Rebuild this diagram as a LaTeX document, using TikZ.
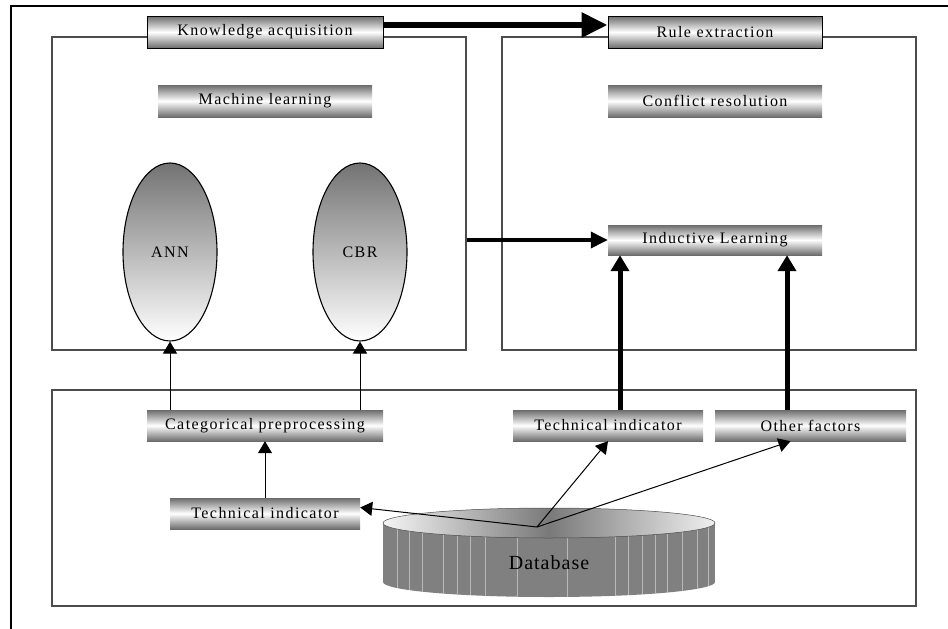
\documentclass[tikz,border=0pt]{standalone}
\usepackage{fontspec}
\newfontfamily\barfont[LetterSpace=9]{Liberation Serif}
\newfontfamily\dbfont[LetterSpace=5]{Liberation Serif}
\usepackage{tikz}
\usetikzlibrary{arrows.meta}
\usetikzlibrary{calc}
\usetikzlibrary{shapes.geometric}

\begin{document}
\begin{tikzpicture}[x=1pt,y=-1pt,
		bar/.style={inner sep=0pt,minimum height=31pt,top color=gray!85!black,bottom color=gray!85!black,middle color=white,font=\barfont\fontsize{16}{19}\selectfont},
		framed/.style={draw=black!70,line width=1.3pt,inner sep=0pt},
		egg/.style={ellipse,draw,line width=1.1pt,minimum width=94pt,minimum height=178pt,inner sep=0pt,top color=gray!90!black,bottom color=white,font=\barfont\fontsize{16}{19}\selectfont},
		smallarrow/.style={line width=1pt,-{Triangle[length=12pt,width=14pt]}},
		bigarrow/.style={line width=6pt,-{Triangle[length=26pt,width=24pt]}},
		midarrow/.style={line width=3.5pt,-{Triangle[length=17pt,width=16pt]}},
		uparrow/.style={line width=5pt,-{Triangle[length=16pt,width=18pt]}}]
		\useasboundingbox (0,0) rectangle (948,629);
		\draw[line width=1.6pt] (11,629) -- (11,6) -- (948,6);

		\node[framed,minimum width=414pt,minimum height=313pt] (lframe) at (259,193.5) {};
		\node[framed,minimum width=414pt,minimum height=313pt] (rframe) at (709,193.5) {};
		\node[framed,minimum width=864pt,minimum height=216pt] (dframe) at (484,498) {};

		\node[bar,draw,line width=1pt,minimum width=236pt,minimum height=32pt] (knowl) at (265,32) {Knowledge acquisition};
		\node[bar,draw,line width=1pt,minimum width=214pt,minimum height=32pt] (rule) at (715,32) {Rule extraction};
		\node[bar,minimum width=214pt,minimum height=32pt] (mlearn) at (265,101) {Machine learning};
		\node[bar,minimum width=214pt,minimum height=32pt] (conflict) at (715,101) {Conflict resolution};
		\node[bar,minimum width=214pt,minimum height=30pt] (induct) at (715,240) {Inductive Learning};
		\node[egg] (ann) at (170,252) {ANN};
		\node[egg] (cbr) at (360,252) {CBR};
		\node[bar,minimum width=236pt] (catpre) at (265,425.5) {Categorical preprocessing};
		\node[bar,minimum width=190pt] (techA) at (265,513.5) {Technical indicator};
		\node[bar,minimum width=190pt] (techB) at (608,425.5) {Technical indicator};
		\node[bar,minimum width=191pt] (other) at (810.5,425.5) {Other factors};

		\fill[gray] (383,523) rectangle (715,582);
		\fill[gray] (549,582) ellipse[x radius=166,y radius=15];
		\foreach \sx in {397,409,422,443,457,470,485,517,567,615,628,642,655,667,682,697,708}
			\draw[gray!55,line width=0.5pt] (\sx,523) -- (\sx,{582+15*sqrt(1-((\sx-549)/166)^2)});
		\shadedraw[left color=gray!8,right color=gray!12,middle color=gray!95!black,draw=black!70,line width=0.5pt] (549,523) ellipse[x radius=166,y radius=15];
		\node[font=\dbfont\fontsize{20}{24}\selectfont] (db) at (549,563) {Database};
		\coordinate (hub) at (537,527);

		\draw[bigarrow] ([yshift=7pt]knowl.east) -- ([yshift=7pt]rule.west);
		\draw[midarrow] (lframe.east |- induct.west) -- (induct.west);
		\draw[uparrow] ([xshift=12pt]techB.north) -- ([xshift=12pt]techB.north |- induct.south);
		\draw[uparrow] ([xshift=-23.5pt]other.north) -- ([xshift=-23.5pt]other.north |- induct.south);
		\draw[smallarrow] (catpre.north -| ann.south) -- (ann.south);
		\draw[smallarrow] (catpre.north -| cbr.south) -- (cbr.south);
		\draw[smallarrow] (techA.north) -- (catpre.south);
		\draw[smallarrow] (hub) -- ([yshift=6pt]techA.east);
		\draw[smallarrow] (hub) -- (techB.south);
		\draw[smallarrow] (hub) -- ([xshift=-20pt]other.south);
	\end{tikzpicture}
\end{document}
